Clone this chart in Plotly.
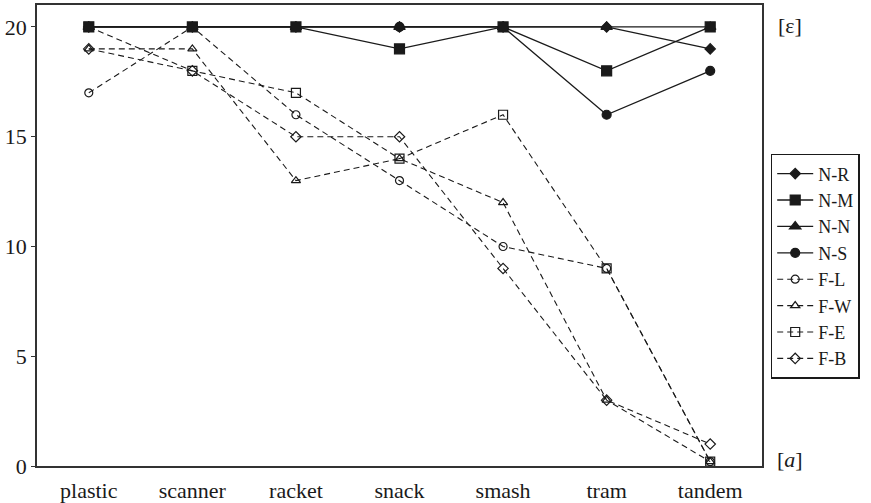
import plotly.graph_objects as go

# Categories on the x axis
words = ["plastic", "scanner", "racket", "snack", "smash", "tram", "tandem"]

# Solid series (N-*)
n_r = [20, 20, 20, 20, 20, 20, 19]
n_m = [20, 20, 20, 19, 20, 18, 20]
n_n = [20, 20, 20, 20, 20, 20, 20]
n_s = [20, 20, 20, 20, 20, 16, 18]

# Dashed series (F-*)
f_l = [17, 20, 16, 13, 10, 9, 0.2]
f_w = [19, 19, 13, 14, 12, 3, 0.2]
f_e = [20, 18, 17, 14, 16, 9, 0.2]
f_b = [19, 18, 15, 15, 9, 3, 1]

y_ticks = [0, 5, 10, 15, 20]

INK = "#1a1a1a"
FONT = "Liberation Serif"

# name, values, symbol, size, dash, solid, legend position
series = [
    ("F-L", f_l, "circle-open", 8, "6px,4px", False, 4),
    ("F-W", f_w, "triangle-up-open", 8, "6px,4px", False, 5),
    ("F-E", f_e, "square-open", 9, "6px,4px", False, 6),
    ("F-B", f_b, "diamond-open", 8, "6px,4px", False, 7),
    ("N-R", n_r, "diamond", 8, "solid", True, 0),
    ("N-S", n_s, "circle", 9, "solid", True, 3),
    ("N-N", n_n, "triangle-up", 10, "solid", True, 2),
    ("N-M", n_m, "square", 10, "solid", True, 1),
]

fig = go.Figure()
xs = list(range(len(words)))
for name, vals, sym, size, dash, solid, rank in series:
    fig.add_trace(go.Scatter(
        x=xs, y=vals, name=name, mode="lines+markers", legendrank=rank,
        line=dict(color=INK, width=1.3 if solid else 1.1, dash=dash),
        marker=dict(symbol=sym, size=size, color=INK,
                    line=dict(color=INK, width=1.2)),
    ))

fig.update_layout(
    width=871, height=503,
    margin=dict(l=37, r=109, t=5, b=37),
    paper_bgcolor="white", plot_bgcolor="white",
    font=dict(family=FONT, size=22, color=INK),
    showlegend=True,
    legend=dict(
        x=1.012, xanchor="left", y=0.677, yanchor="top",
        bordercolor=INK, borderwidth=1.5, bgcolor="white",
        font=dict(family=FONT, size=18, color=INK),
        traceorder="normal", tracegroupgap=0, itemwidth=36,
    ),
    xaxis=dict(
        range=[-0.5, 6.5], tickmode="array", tickvals=xs, ticktext=words,
        showgrid=False, zeroline=False, showline=True, linecolor="#333",
        linewidth=1.5, mirror=True, ticks="", ticklabelstandoff=4,
        automargin=False,
        tickfont=dict(family=FONT, size=22, color=INK),
    ),
    yaxis=dict(
        range=[0, 21], tickmode="array", tickvals=y_ticks,
        showgrid=False, zeroline=False, showline=True, linecolor="#333",
        linewidth=1.5, mirror=True, ticks="outside", ticklen=4,
        tickcolor="#333", tickwidth=1.2, automargin=False,
        tickfont=dict(family=FONT, size=22, color=INK),
    ),
    annotations=[
        dict(text="[ε]", x=1.038, y=0.955, xref="paper", yref="paper",
             xanchor="center", yanchor="middle", showarrow=False,
             font=dict(family=FONT, size=22, color=INK)),
        dict(text="[<i>a</i>]", x=1.038, y=0.015, xref="paper", yref="paper",
             xanchor="center", yanchor="middle", showarrow=False,
             font=dict(family=FONT, size=22, color=INK)),
    ],
)

fig.write_html("out.html")
